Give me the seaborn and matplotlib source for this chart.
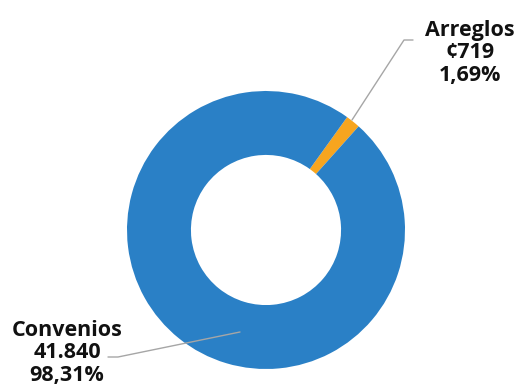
import matplotlib
matplotlib.use("Agg")
import matplotlib.pyplot as plt
import seaborn as sns

sns.set_theme(style="white")
plt.rcParams['font.family'] = ['Open Sans', 'DejaVu Sans']

categories = ["Arreglos", "Convenios"]
values = [719, 41840]
value_labels = ["¢719", "41.840"]
pct_labels = ["1,69%", "98,31%"]
colors = ["#F7A51F", "#2A80C6"]

fig = plt.figure(figsize=(5.17, 3.86), dpi=100)
ax = fig.add_axes([0, 0, 1, 1])
W, H = 517, 386
cx, cy, R = 266, H - 230, 139

ax.pie(values, colors=colors, startangle=54.3, counterclock=False,
       radius=R, center=(cx, cy),
       wedgeprops=dict(width=R * 0.46, edgecolor="white", linewidth=0))
ax.set_xlim(0, W)
ax.set_ylim(0, H)
ax.set_aspect("equal")
ax.axis("off")

lc = "#A6A6A6"
# Arreglos leader
ax.plot([352, 404, 413], [H - 120, H - 40, H - 40], color=lc, lw=1)
# Convenios leader
ax.plot([240, 118, 108], [H - 332, H - 357, H - 357], color=lc, lw=1)

ax.text(470, H - 53, f"{categories[0]}\n{value_labels[0]}\n{pct_labels[0]}",
        ha="center", va="center", fontsize=15.5, fontweight="bold",
        color="#111111", linespacing=1.1)
ax.text(67, H - 353, f"{categories[1]}\n{value_labels[1]}\n{pct_labels[1]}",
        ha="center", va="center", fontsize=15.5, fontweight="bold",
        color="#111111", linespacing=1.1)

fig.savefig("out.png", dpi=100)
